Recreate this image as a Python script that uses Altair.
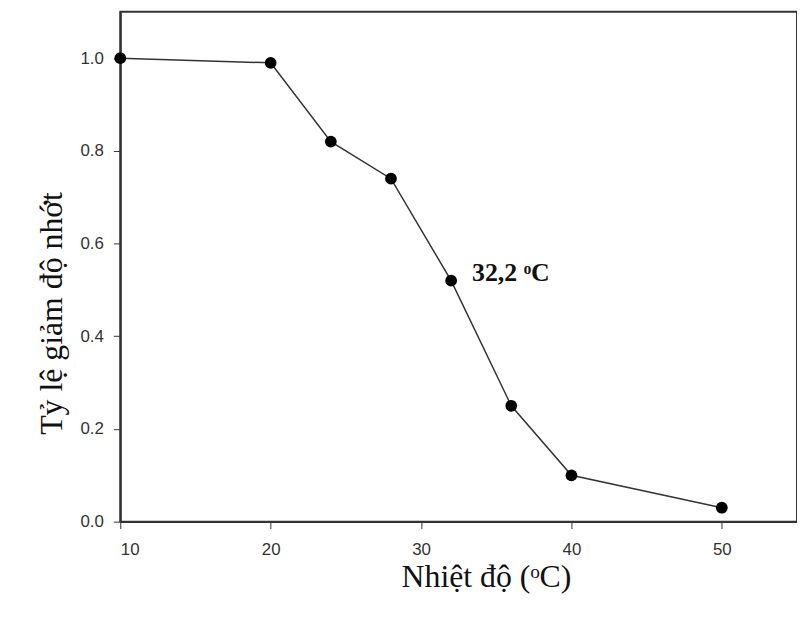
import altair as alt
import pandas as pd

temps = [10, 20, 24, 28, 32, 36, 40, 50]
ratios = [1.0, 0.99, 0.82, 0.74, 0.52, 0.25, 0.10, 0.03]

ann_x = [32]
ann_y = [0.52]
ann_text = ["32,2 ᵒC"]

df = pd.DataFrame({"t": temps, "r": ratios})
ann = pd.DataFrame({"t": ann_x, "r": ann_y, "label": ann_text})

x = alt.X("t:Q", scale=alt.Scale(domain=[10, 55], nice=False, zero=False),
          axis=alt.Axis(title="Nhiệt độ (ᵒC)", values=[10, 20, 30, 40, 50], format="d",
                        titleFont="Liberation Serif", titleFontSize=32, titleFontWeight="normal",
                        titleColor="#111", titlePadding=4, labelFont="Liberation Sans",
                        labelFontSize=17, labelColor="#333", labelPadding=13,
                        tickSize=7, tickColor="#333", domainColor="#333", domainWidth=2,
                        grid=False, titleX=368))
y = alt.Y("r:Q", scale=alt.Scale(domain=[0, 1.1], nice=False),
          axis=alt.Axis(title="Tỷ lệ giảm độ nhớt", values=[0, 0.2, 0.4, 0.6, 0.8, 1.0], format=".1f",
                        titleFont="Liberation Serif", titleFontSize=32, titleFontWeight="normal",
                        titleColor="#111", titlePadding=12, labelFont="Liberation Sans",
                        labelFontSize=17, labelColor="#333", labelPadding=10,
                        tickSize=7, tickColor="#333", domainColor="#333", domainWidth=2,
                        grid=False, titleY=303))

line = alt.Chart(df).mark_line(color="#333", strokeWidth=1.5).encode(x=x, y=y)
pts = alt.Chart(df).mark_point(filled=True, color="black", size=140, opacity=1).encode(x=x, y=y)
txt = alt.Chart(ann).mark_text(align="left", baseline="alphabetic", dx=21, dy=0,
                               font="Liberation Serif", fontSize=26, fontWeight="bold",
                               color="#111").encode(x=x, y=y, text="label:N")

chart = (line + pts + txt).properties(
    width=681, height=513,
    autosize=alt.AutoSizeParams(type="none"),
    padding={"left": 113, "top": 2, "right": 0, "bottom": 80},
).configure_view(stroke="#333", strokeWidth=2)

chart.save("out.html", embed_options={"renderer": "svg", "actions": False})
